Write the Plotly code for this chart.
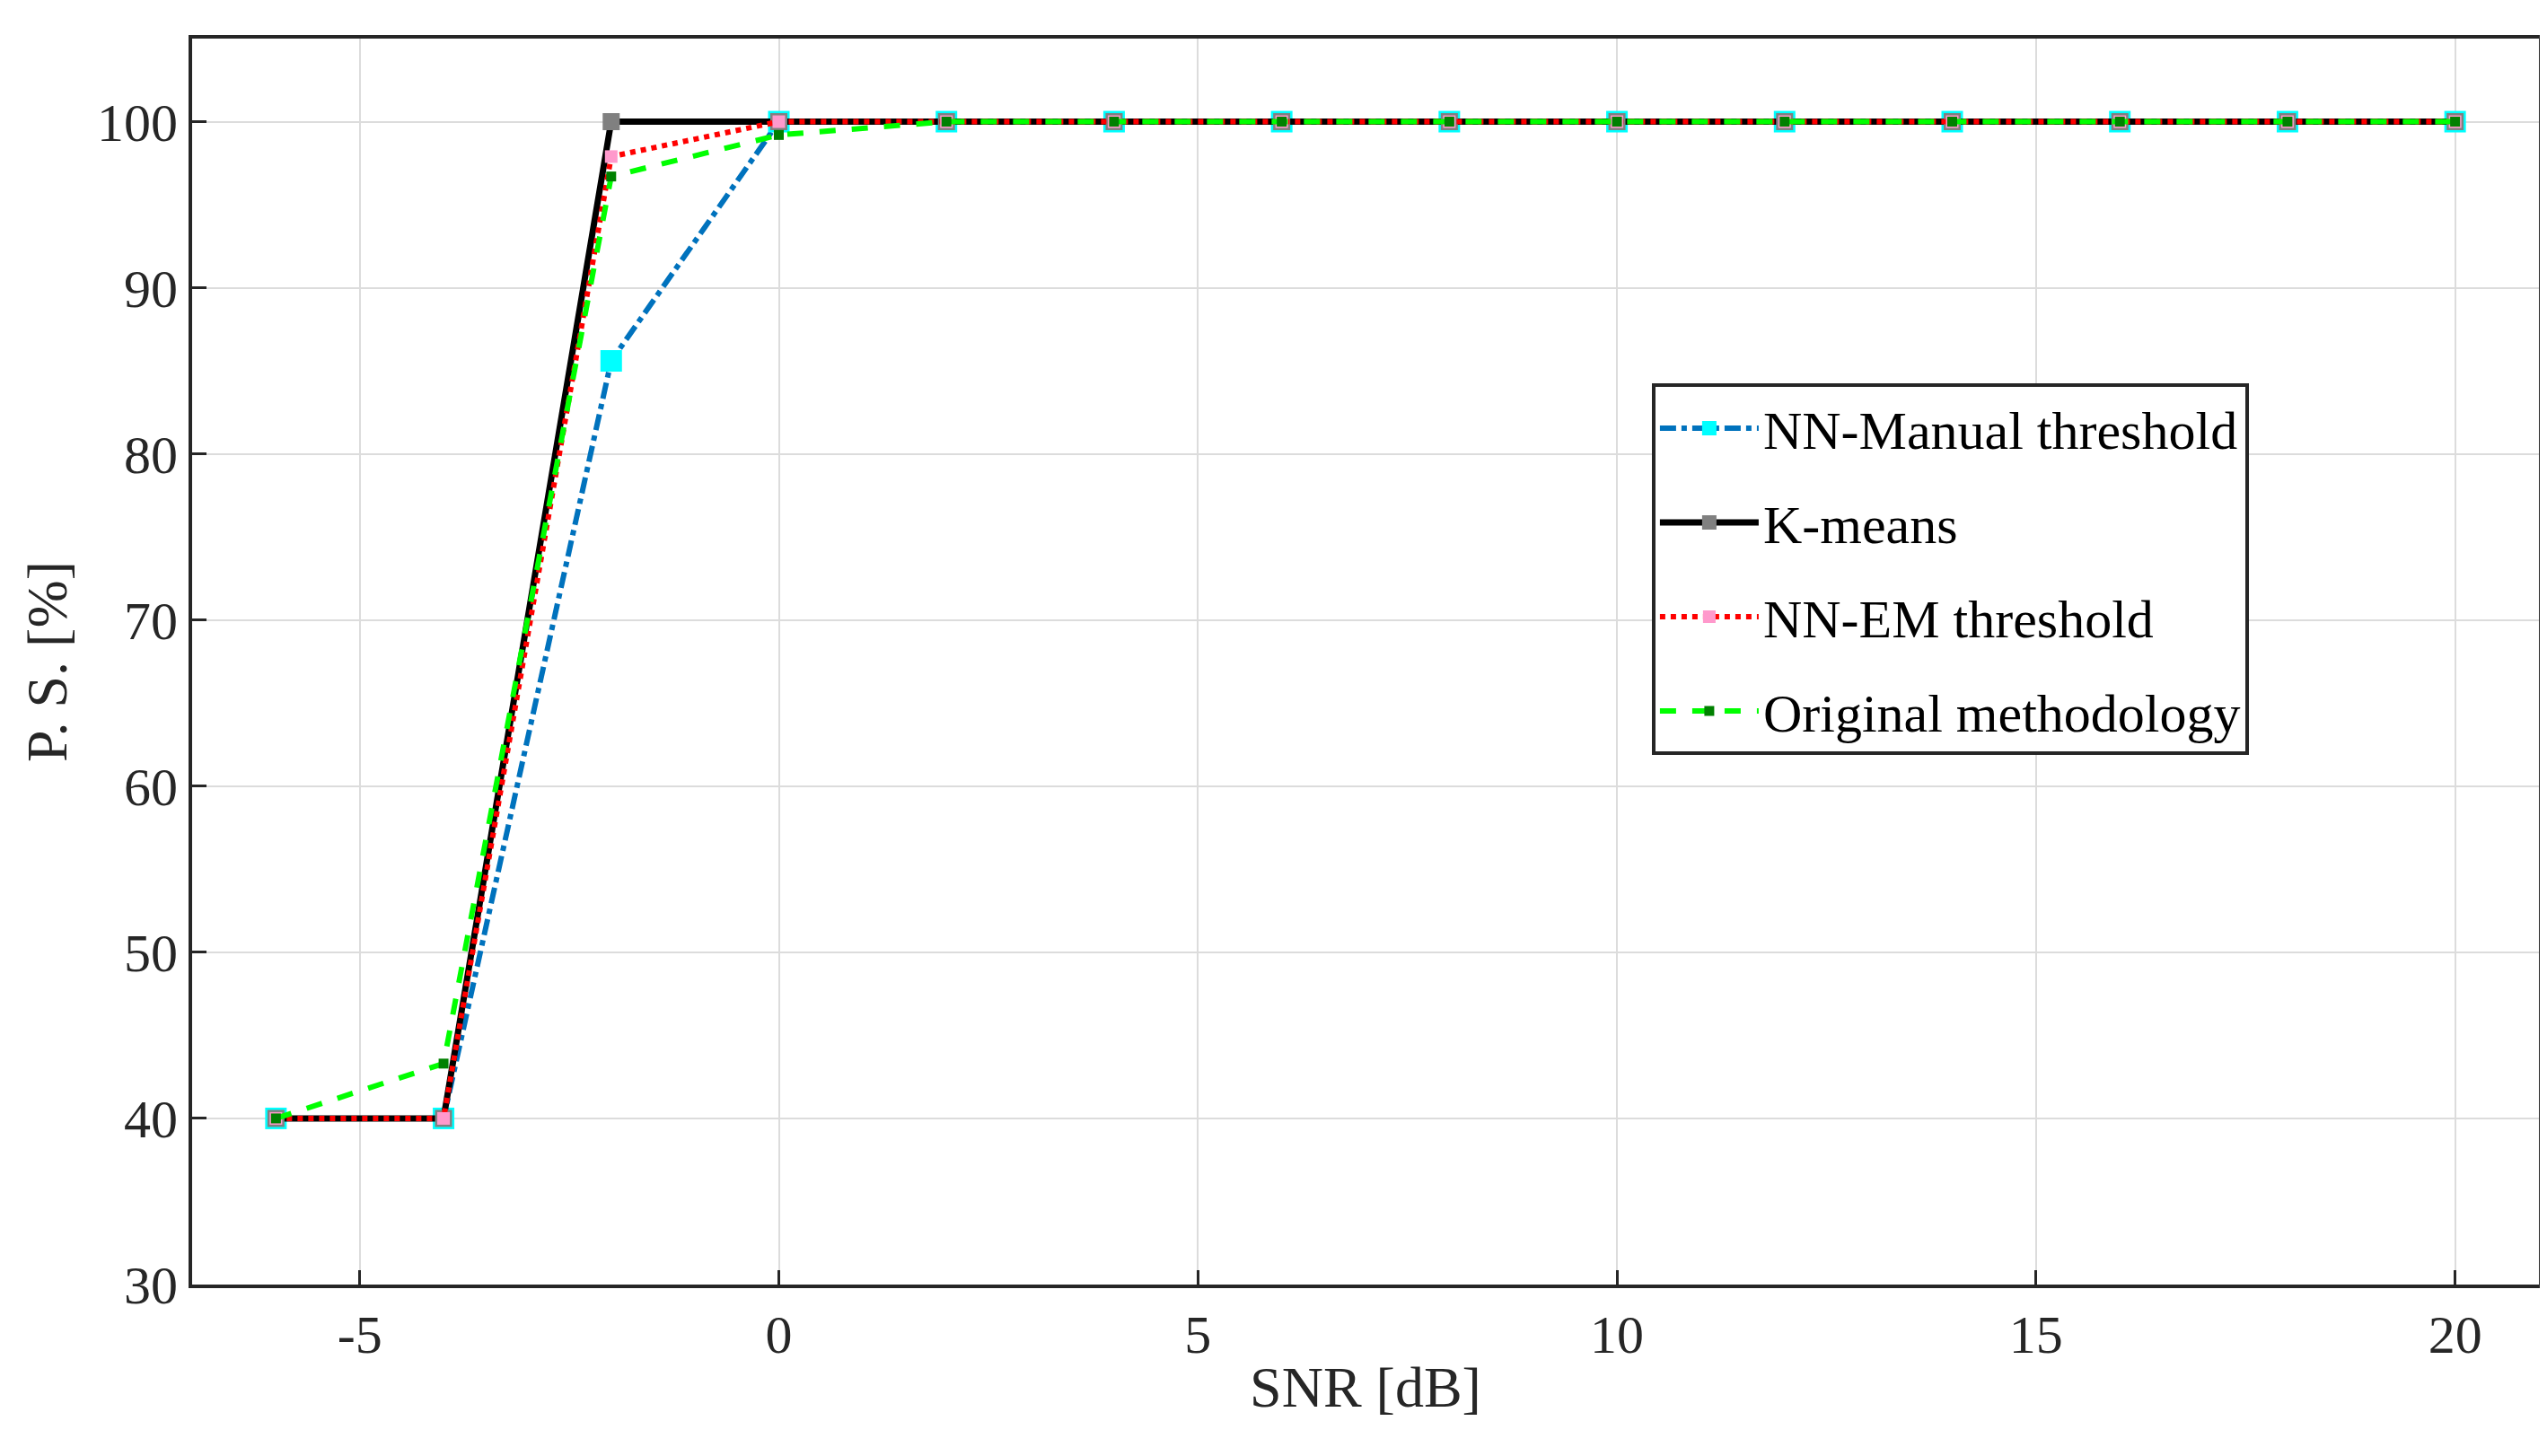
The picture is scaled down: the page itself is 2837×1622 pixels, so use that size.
import plotly.graph_objects as go

snr = [-6, -4, -2, 0, 2, 4, 6, 8, 10, 12, 14, 16, 18, 20]
nn_manual = [40, 40, 85.6, 100, 100, 100, 100, 100, 100, 100, 100, 100, 100, 100]
kmeans = [40, 40, 100, 100, 100, 100, 100, 100, 100, 100, 100, 100, 100, 100]
nn_em = [40, 40, 97.9, 100, 100, 100, 100, 100, 100, 100, 100, 100, 100, 100]
original = [40, 43.3, 96.7, 99.2, 100, 100, 100, 100, 100, 100, 100, 100, 100, 100]
x_ticks = [-5, 0, 5, 10, 15, 20]
x_ticktext = ["-5", "0", "5", "10", "15", "20"]
y_ticks = [30, 40, 50, 60, 70, 80, 90, 100]

FONT = "Liberation Serif"
fig = go.Figure()
fig.add_trace(go.Scatter(x=snr, y=nn_manual, name="NN-Manual threshold", mode="lines+markers",
    legendgroup="a", line=dict(color="#0072BD", width=6, dash="dashdot"),
    marker=dict(symbol="square", size=24, color="cyan")))
fig.add_trace(go.Scatter(x=snr, y=kmeans, name="K-means", mode="lines+markers",
    legendgroup="b", line=dict(color="black", width=7),
    marker=dict(symbol="square", size=19, color="gray")))
fig.add_trace(go.Scatter(x=snr, y=nn_em, name="NN-EM threshold", mode="lines+markers",
    legendgroup="c", line=dict(color="red", width=6, dash="dot"),
    marker=dict(symbol="square", size=14, color="#FF99CC")))
fig.add_trace(go.Scatter(x=snr, y=original, name="Original methodology", mode="lines+markers",
    legendgroup="d", line=dict(color="#00FF00", width=6, dash="dash"),
    marker=dict(symbol="square", size=11, color="#008000")))

ax = dict(showline=True, linecolor="#262626", linewidth=4, mirror=True, ticks="inside",
          ticklen=16, tickwidth=3, tickcolor="#262626", showgrid=True, gridcolor="#DCDCDC",
          gridwidth=2, zeroline=False, tickfont=dict(family=FONT, size=60, color="#262626"))
fig.update_xaxes(**ax, range=[-7, 21], tickvals=x_ticks, ticktext=x_ticktext,
                 title=dict(text="SNR [dB]", font=dict(family=FONT, size=64, color="#262626"), standoff=4))
fig.update_yaxes(**ax, range=[30, 105], tickvals=y_ticks,
                 title=dict(text="P. S. [%]", font=dict(family=FONT, size=64, color="#262626"), standoff=14))
fig.update_layout(width=2837, height=1622, plot_bgcolor="white", paper_bgcolor="white",
    margin=dict(l=206, r=17, t=35, b=199),
    legend=dict(x=0.622, y=0.723, xanchor="left", yanchor="top", bgcolor="white",
                bordercolor="#262626", borderwidth=4,
                font=dict(family=FONT, size=60, color="black"), tracegroupgap=24,
                itemwidth=110))
fig.write_html("out.html")
